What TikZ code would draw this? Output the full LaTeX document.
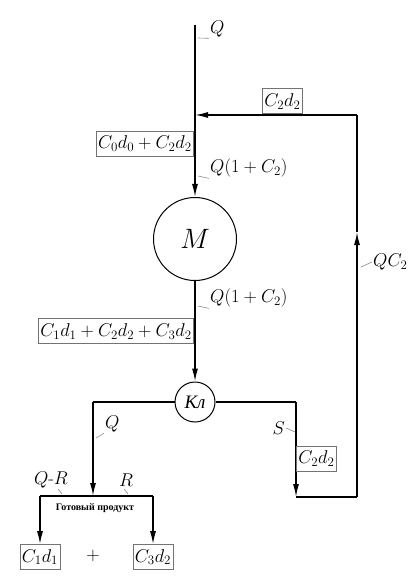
\RequirePackage{fix-cm}
\documentclass[tikz,border=0pt]{standalone}
\usepackage{fontspec}
\newfontfamily\rusfont{Liberation Serif}
\usetikzlibrary{arrows.meta}
\tikzset{
  flow/.style={line width=1.4pt},
  heavy/.style={line width=2.7pt},
  tip/.style={-{Latex[length=13pt,width=6pt]}},
  valbox/.style={draw=black!55, line width=0.6pt, inner sep=2pt, minimum height=25pt, font=\fontsize{18.5}{20}\selectfont},
  lbl/.style={inner sep=1pt, font=\fontsize{18.5}{20}\selectfont},
  lead/.style={draw=black!45, line width=0.6pt},
  unit/.style={draw, circle, line width=1pt, font=\fontsize{28}{30}\selectfont}
}

\begin{document}
\begin{tikzpicture}[x=1pt, y=-1pt]
			%%%%% START %%%%%
			\useasboundingbox (0, 0) rectangle (418, 585);
			
			% units
			\node[unit, minimum size=83pt] (mix) at (195, 239) {$M$};
			\node[unit, minimum size=40pt, inner sep=0pt, font=\rusfont\itshape\fontsize{19}{21}\selectfont] (kl) at (195, 402) {Кл};
			
			% corners
			\coordinate (top) at (195, 25);
			\coordinate (join) at (195, 115);
			\coordinate (rtop) at (357, 115);
			\coordinate (rmid) at (357, 232);
			\coordinate (rbot) at (357, 497);
			\coordinate (sbot) at (296, 497);
			\coordinate (kright) at (296, 402);
			\coordinate (kleft) at (93, 402);
			\coordinate (qbot) at (93, 496);
			\coordinate (pleft) at (40, 496);
			\coordinate (pright) at (153, 496);
			
			% boxes
			\node[valbox] (c1box) at (40, 557) {$C_1d_1$};
			\node[valbox] (c3box) at (153, 557) {$C_3d_2$};
			\node[lbl] (plus) at (93, 556) {$+$};
			
			% main stream
			\draw[flow] (top) -- (join);
			\draw[flow, tip] (join) -- (mix.north);
			\draw[flow, tip] (mix.south) -- (kl.north);
			
			% recycle loop
			\draw[heavy] (kl.east) -- (kright);
			\draw[flow, tip] (kright) -- (sbot);
			\draw[heavy] (sbot) -- (rbot);
			\draw[flow, tip] (rbot) -- (rmid);
			\draw[flow] (rmid) -- (rtop);
			\draw[heavy] (rtop) -- (231, 115);
			\draw[flow, tip] (231, 115) -- (join);
			
			% product
			\draw[heavy] (kl.west) -- (kleft);
			\draw[flow, tip] (kleft) -- (qbot);
			\draw[heavy] (pleft) -- (pright);
			\draw[flow, tip] (pleft) -- (c1box.north);
			\draw[flow, tip] (pright) -- (c3box.north);
			
			% value boxes
			\node[valbox, anchor=south west] (c2top) at (262, 114) {$C_2d_2$};
			\node[valbox, anchor=north east] (c0box) at (194, 131) {$C_0d_0+C_2d_2$};
			\node[valbox, anchor=south east] (c123box) at (194, 344) {$C_1d_1+C_2d_2+C_3d_2$};
			\node[valbox, anchor=north west] (c2right) at (296, 446) {$C_2d_2$};
			
			% stream labels
			\node[lbl, anchor=west] (qin) at (209, 29) {$Q$};
			\draw[lead] (198, 38) -- (qin.south west);
			\node[lbl, anchor=west] (qmix) at (209, 168) {$Q(1+C_2)$};
			\draw[lead] (198, 176) -- (qmix.south west);
			\node[lbl, anchor=west] (qout) at (209, 298) {$Q(1+C_2)$};
			\draw[lead] (198, 306) -- (qout.south west);
			\node[lbl, anchor=west] (qrec) at (372, 262) {$QC_2$};
			\draw[lead] (361, 267) -- (qrec.west);
			\node[lbl, anchor=east] (sout) at (286, 428) {$S$};
			\draw[lead] (sout.east) -- (295, 432);
			\node[lbl, anchor=west] (qprod) at (104, 424) {$Q$};
			\draw[lead] (96, 438) -- (qprod.south west);
			\node[lbl] (qr) at (51, 480) {$Q$-$R$};
			\draw[lead] (58, 489) -- (62, 494);
			\node[lbl] (rr) at (126, 480) {$R$};
			\draw[lead] (124, 489) -- (128, 494);
			\node[font=\rusfont\fontsize{10}{12}\selectfont\bfseries] (ready) at (95, 508) {Готовый продукт};
			
			%%%%% END %%%%%
		\end{tikzpicture}
\end{document}
